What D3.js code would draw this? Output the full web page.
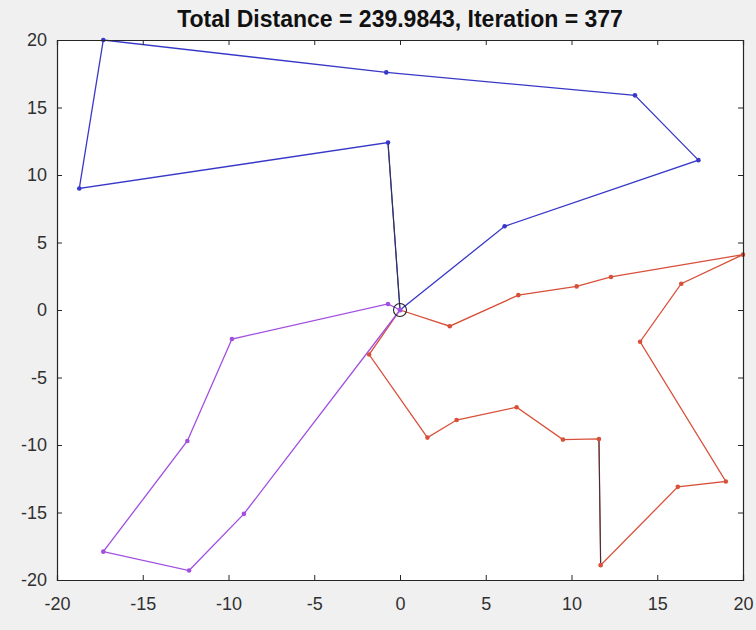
<!DOCTYPE html>
<html>
<head>
<meta charset="utf-8">
<script src="https://cdn.jsdelivr.net/npm/d3@7"></script>
<style>
  body { margin: 0; background: #f0f0f0; }
  svg { display: block; }
</style>
</head>
<body>
<div id="chart_div"></div>
<script>
// routes, each starts and ends at the depot (0,0)
var depot = [0, 0];

var route_blue = [[0, 0], [-0.7, 12.4], [-18.7, 9.0], [-17.3, 20.0], [-0.8, 17.6],
    [13.7, 15.9], [17.4, 11.1], [6.1, 6.2], [0, 0]];

var route_red = [[0, 0], [2.9, -1.2], [6.9, 1.1], [10.3, 1.75], [12.3, 2.45], [20.0, 4.1],
    [16.4, 1.95], [14.0, -2.35], [19.0, -12.7], [16.2, -13.1], [11.7, -18.9],
    [11.6, -9.55], [9.5, -9.6], [6.8, -7.2], [3.3, -8.15], [1.6, -9.45], [-1.8, -3.3], [0, 0]];

var route_purple = [[0, 0], [-0.7, 0.45], [-9.8, -2.15], [-12.4, -9.7], [-17.3, -17.9],
    [-12.3, -19.3], [-9.1, -15.1], [0, 0]];

// segments the original drew in black (index of start point in its route)
var dark_segments = [
    { route: 'blue', i: 0 },
    { route: 'red', i: 10 }
];

var x_ticks = [-20, -15, -10, -5, 0, 5, 10, 15, 20];
var y_ticks = [-20, -15, -10, -5, 0, 5, 10, 15, 20];

var title_text = 'Total Distance = 239.9843, Iteration = 377';

function draw_chart() {
    var width = 756, height = 630;
    var margin = {top: 40, right: 13, bottom: 50, left: 57};
    var w = width - margin.left - margin.right;
    var h = height - margin.top - margin.bottom;

    var svg = d3.select('#chart_div')
        .append('svg')
        .attr('width', width)
        .attr('height', height);

    var x = d3.scaleLinear().domain([-20, 20]).range([0, w]);
    var y = d3.scaleLinear().domain([-20, 20]).range([h, 0]);

    var g = svg.append('g')
        .attr('transform', `translate(${margin.left}, ${margin.top})`);

    g.append('rect')
        .attr('width', w)
        .attr('height', h)
        .attr('fill', '#ffffff');

    var routes = [
        { id: 'blue', color: '#3838c8', pts: route_blue },
        { id: 'red', color: '#d8503a', pts: route_red },
        { id: 'purple', color: '#a24ee0', pts: route_purple }
    ];

    var line = d3.line().x(d => x(d[0])).y(d => y(d[1]));

    g.selectAll('path.route')
        .data(routes)
        .enter()
        .append('path')
        .attr('class', 'route')
        .attr('d', d => line(d.pts))
        .attr('fill', 'none')
        .attr('stroke', d => d.color)
        .attr('stroke-width', 1.3);

    // black segments on top
    g.selectAll('line.dark')
        .data(dark_segments)
        .enter()
        .append('line')
        .attr('class', 'dark')
        .attr('x1', d => x(routes.find(r => r.id === d.route).pts[d.i][0]))
        .attr('y1', d => y(routes.find(r => r.id === d.route).pts[d.i][1]))
        .attr('x2', d => x(routes.find(r => r.id === d.route).pts[d.i + 1][0]))
        .attr('y2', d => y(routes.find(r => r.id === d.route).pts[d.i + 1][1]))
        .attr('stroke', '#333344')
        .attr('stroke-width', 1);

    // point markers
    routes.forEach(function(r) {
        g.selectAll('circle.pt_' + r.id)
            .data(r.pts.slice(1, -1))
            .enter()
            .append('circle')
            .attr('class', 'pt_' + r.id)
            .attr('cx', d => x(d[0]))
            .attr('cy', d => y(d[1]))
            .attr('r', 2.3)
            .attr('fill', r.color);
    });

    // depot
    g.append('circle')
        .attr('cx', x(depot[0]))
        .attr('cy', y(depot[1]))
        .attr('r', 2.5)
        .attr('fill', '#a24ee0');
    g.append('circle')
        .attr('cx', x(depot[0]))
        .attr('cy', y(depot[1]))
        .attr('r', 6.5)
        .attr('fill', 'none')
        .attr('stroke', '#222222')
        .attr('stroke-width', 1.1);

    // axes
    var axis_color = '#262626';
    var fmt = d => String(d);
    var xb = g.append('g')
        .attr('transform', `translate(0, ${h})`)
        .call(d3.axisBottom(x).tickValues(x_ticks).tickSize(-5).tickPadding(17).tickFormat(fmt));
    var xt = g.append('g')
        .call(d3.axisTop(x).tickValues(x_ticks).tickSize(-5).tickFormat(''));
    var yl = g.append('g')
        .call(d3.axisLeft(y).tickValues(y_ticks).tickSize(-5).tickPadding(10).tickFormat(fmt));
    var yr = g.append('g')
        .attr('transform', `translate(${w}, 0)`)
        .call(d3.axisRight(y).tickValues(y_ticks).tickSize(-5).tickFormat(''));

    [xb, xt, yl, yr].forEach(function(a) {
        a.select('.domain').attr('stroke', axis_color).attr('stroke-width', 1.2);
        a.selectAll('.tick line').attr('stroke', axis_color);
        a.selectAll('.tick text')
            .attr('fill', '#303030')
            .style('font-family', 'Liberation Sans, Arial, sans-serif')
            .style('font-size', '18px');
    });

    svg.append('text')
        .attr('x', margin.left + w / 2)
        .attr('y', 27)
        .style('text-anchor', 'middle')
        .style('font-family', 'Liberation Sans, Arial, sans-serif')
        .style('font-weight', 700)
        .style('font-size', '23px')
        .attr('fill', '#111111')
        .text(title_text);
}

document.addEventListener('DOMContentLoaded', draw_chart);
</script>
</body>
</html>
